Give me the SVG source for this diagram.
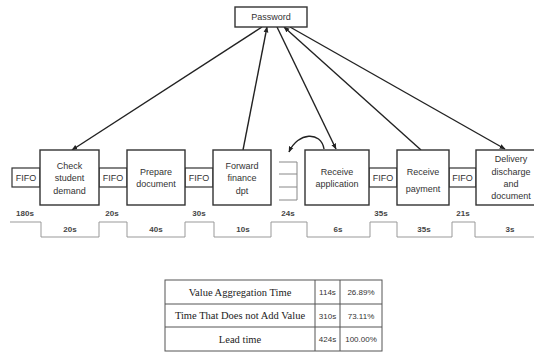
<svg xmlns="http://www.w3.org/2000/svg" width="534" height="353" viewBox="0 0 534 353">
<defs>
<marker id="ah" viewBox="0 0 10 10" refX="9" refY="5" markerWidth="6" markerHeight="6" orient="auto-start-reverse" markerUnits="userSpaceOnUse">
<path d="M0,1 L10,5 L0,9 z" fill="#222"/>
</marker>
</defs>
<style>
.box{fill:#fff;stroke:#333;stroke-width:1.4}
.fifo{fill:#fff;stroke:#333;stroke-width:1.2}
.t{font-family:"Liberation Sans",Arial,sans-serif;font-size:9px;fill:#333;text-anchor:middle}
.tm{font-family:"Liberation Sans",Arial,sans-serif;font-size:8px;font-weight:bold;fill:#444;text-anchor:middle}
.conn{stroke:#222;stroke-width:1.4;fill:none}
.tl{stroke:#999;stroke-width:1;fill:none}
.tb{font-family:"Liberation Serif","Times New Roman",serif;font-size:10.5px;fill:#222;text-anchor:middle}
.tn{font-family:"Liberation Sans",Arial,sans-serif;font-size:8px;fill:#333;text-anchor:middle}
.grid{stroke:#555;stroke-width:1;fill:none}
</style>
<rect width="534" height="353" fill="#fff"/>

<g id="connectors">
<line class="conn" x1="262" y1="27" x2="72" y2="150" marker-end="url(#ah)"/>
<line class="conn" x1="243" y1="150" x2="267" y2="27" marker-end="url(#ah)"/>
<line class="conn" x1="277" y1="27" x2="336" y2="149" marker-end="url(#ah)"/>
<line class="conn" x1="421" y1="150" x2="284" y2="27" marker-end="url(#ah)"/>
<line class="conn" x1="290" y1="27" x2="505" y2="149" marker-end="url(#ah)"/>
<path class="conn" d="M324,149 C321,131 298,132 289,152" marker-end="url(#ah)"/>
</g>

<g id="password">
<rect class="box" x="235" y="7" width="72" height="20"/>
<text class="t" x="271" y="20">Password</text>
</g>

<g id="fifo1"><rect class="fifo" x="12" y="168" width="28" height="19"/><text class="t" x="26" y="181">FIFO</text></g>
<g id="fifo2"><rect class="fifo" x="99" y="168" width="28" height="19"/><text class="t" x="113" y="181">FIFO</text></g>
<g id="fifo3"><rect class="fifo" x="185" y="168" width="28" height="19"/><text class="t" x="199" y="181">FIFO</text></g>
<g id="fifo4"><rect class="fifo" x="369" y="168" width="28" height="19"/><text class="t" x="383" y="181">FIFO</text></g>
<g id="fifo5"><rect class="fifo" x="449" y="168" width="27" height="19"/><text class="t" x="462.5" y="181">FIFO</text></g>

<g id="stack">
<path class="tl" style="stroke:#888" d="M279,162 H297 M279,174 H297 M279,187 H297 M279,200 H297 M297,162 V200"/>
</g>

<g id="check">
<rect class="box" x="40" y="150" width="59" height="55"/>
<text class="t" x="69.5" y="169">Check</text>
<text class="t" x="69.5" y="181">student</text>
<text class="t" x="69.5" y="194">demand</text>
</g>
<g id="prepare">
<rect class="box" x="127" y="150" width="58" height="55"/>
<text class="t" x="156" y="175">Prepare</text>
<text class="t" x="156" y="187">document</text>
</g>
<g id="forward">
<rect class="box" x="213" y="150" width="58" height="55"/>
<text class="t" x="242" y="169">Forward</text>
<text class="t" x="242" y="181">finance</text>
<text class="t" x="242" y="194">dpt</text>
</g>
<g id="receiveapp">
<rect class="box" x="305" y="150" width="64" height="55"/>
<text class="t" x="337" y="175">Receive</text>
<text class="t" x="337" y="187">application</text>
</g>
<g id="receivepay">
<rect class="box" x="397" y="150" width="52" height="55"/>
<text class="t" x="423" y="175">Receive</text>
<text class="t" x="423" y="192">payment</text>
</g>
<g id="delivery">
<rect class="box" x="476" y="150" width="70" height="55"/>
<text class="t" x="511" y="162">Delivery</text>
<text class="t" x="511" y="175">discharge</text>
<text class="t" x="511" y="187">and</text>
<text class="t" x="511" y="199">document</text>
</g>

<g id="timeline">
<path class="tl" d="M10,222 H41 V237 H99 V222 H127 V237 H185 V222 H214 V237 H271 V222 H307 V237 H370 V222 H397 V237 H452 V222 H475 V237 H534"/>
<text class="tm" x="25" y="216">180s</text>
<text class="tm" x="112" y="216">20s</text>
<text class="tm" x="199" y="216">30s</text>
<text class="tm" x="288" y="216">24s</text>
<text class="tm" x="381" y="216">35s</text>
<text class="tm" x="463" y="216">21s</text>
<text class="tm" x="70" y="232">20s</text>
<text class="tm" x="156" y="232">40s</text>
<text class="tm" x="243" y="232">10s</text>
<text class="tm" x="338" y="232">6s</text>
<text class="tm" x="424" y="232">35s</text>
<text class="tm" x="510" y="232">3s</text>
</g>

<g id="table">
<rect class="grid" x="165" y="280" width="217" height="71"/>
<path class="grid" d="M165,304 H382 M165,327 H382 M315,280 V351 M340,280 V351"/>
<text class="tb" x="240" y="295.5">Value Aggregation Time</text>
<text class="tn" x="327.5" y="295">114s</text>
<text class="tn" x="361" y="295">26.89%</text>
<text class="tb" x="240" y="319">Time That Does not Add Value</text>
<text class="tn" x="327.5" y="318.5">310s</text>
<text class="tn" x="361" y="318.5">73.11%</text>
<text class="tb" x="240" y="342.5">Lead time</text>
<text class="tn" x="327.5" y="342">424s</text>
<text class="tn" x="361" y="342">100.00%</text>
</g>
</svg>
